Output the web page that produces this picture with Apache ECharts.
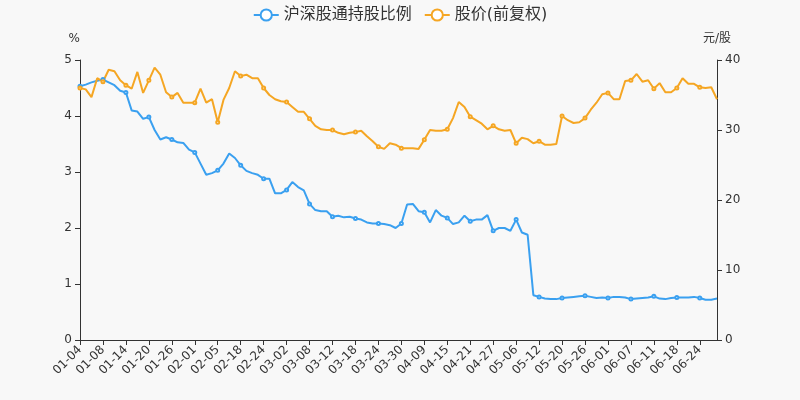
<!DOCTYPE html>
<html><head><meta charset="utf-8">
<script src="https://cdn.jsdelivr.net/npm/echarts@6/dist/echarts.min.js"></script>
<style>body{margin:0;background:#f8f8f8}#c{width:800px;height:400px}</style>
</head><body><div id="c"></div>
<script>
var dates = ['01-04','01-05','01-06','01-07','01-08','01-11','01-12','01-13','01-14','01-15','01-18','01-19','01-20','01-21','01-22','01-25','01-26','01-27','01-28','01-29',
 '02-01','02-02','02-03','02-04','02-05','02-08','02-09','02-10','02-18','02-19','02-22','02-23','02-24','02-25','02-26','03-01','03-02','03-03','03-04','03-05',
 '03-08','03-09','03-10','03-11','03-12','03-15','03-16','03-17','03-18','03-19','03-22','03-23','03-24','03-25','03-26','03-29','03-30','04-01','04-02','04-08',
 '04-09','04-12','04-13','04-14','04-15','04-16','04-19','04-20','04-21','04-22','04-23','04-26','04-27','04-28','04-29','04-30','05-06','05-07','05-10','05-11',
 '05-12','05-13','05-14','05-17','05-20','05-21','05-24','05-25','05-26','05-27','05-28','05-31','06-01','06-02','06-03','06-04','06-07','06-08','06-09','06-10',
 '06-11','06-15','06-16','06-17','06-18','06-21','06-22','06-23','06-24','06-25','06-28','06-29'];
var ratio = [4.53,4.56,4.6,4.63,4.65,4.6,4.55,4.45,4.42,4.1,4.08,3.95,3.98,3.75,3.58,3.62,3.58,3.53,3.52,3.4,
 3.35,3.15,2.95,2.98,3.03,3.15,3.33,3.25,3.12,3.02,2.98,2.95,2.88,2.88,2.62,2.62,2.68,2.82,2.73,2.67,
 2.43,2.32,2.3,2.3,2.2,2.22,2.19,2.2,2.17,2.15,2.1,2.08,2.08,2.07,2.05,2.0,2.08,2.42,2.43,2.3,
 2.28,2.1,2.32,2.22,2.18,2.07,2.1,2.22,2.12,2.15,2.15,2.23,1.95,2.0,2.0,1.95,2.15,1.92,1.88,0.8,
 0.77,0.74,0.73,0.73,0.75,0.76,0.77,0.78,0.79,0.77,0.75,0.76,0.75,0.77,0.77,0.76,0.73,0.74,0.75,0.76,
 0.78,0.74,0.73,0.75,0.76,0.76,0.76,0.77,0.75,0.72,0.72,0.74];
var price = [36,35.8,34.7,37.4,36.9,38.6,38.4,37.1,36.4,35.9,38.3,35.3,37.1,38.9,37.9,35.4,34.7,35.3,33.9,33.9,
 33.9,35.9,33.9,34.4,31.1,34.3,36,38.4,37.7,37.9,37.4,37.4,36,35,34.4,34.1,34,33.3,32.6,32.6,
 31.6,30.6,30.1,30,30,29.6,29.4,29.6,29.7,29.9,29.1,28.4,27.6,27.3,28.1,27.9,27.4,27.4,27.4,27.3,
 28.6,30,29.9,29.9,30.1,31.7,34,33.3,31.9,31.4,30.9,30.1,30.6,30.1,29.9,30,28.1,28.9,28.7,28.1,
 28.4,27.9,27.9,28,32,31.4,31,31.1,31.7,32.9,33.9,35.1,35.3,34.4,34.4,37,37.1,38,36.9,37.1,
 35.9,36.7,35.4,35.4,36,37.4,36.6,36.6,36.1,36,36.1,34.4];

var chart = echarts.init(document.getElementById('c'));
var axisCommon = {
    axisLine: {show: true, lineStyle: {color: '#333'}},
    axisTick: {show: true},
    splitLine: {show: false},
    axisLabel: {color: '#333'},
    nameTextStyle: {color: '#333'}
};
chart.setOption({
    backgroundColor: '#f8f8f8',
    textStyle: {fontFamily: 'DejaVu Sans, Noto Sans CJK SC'},
    legend: {
        top: 2,
        itemGap: 12,
        textStyle: {fontSize: 16, color: '#333'},
        data: ['沪深股通持股比例', '股价(前复权)']
    },
    grid: {left: 80, right: 83, top: 60, bottom: 60},
    xAxis: {
        type: 'category',
        data: dates,
        boundaryGap: false,
        axisLine: {lineStyle: {color: '#333'}},
        axisTick: {interval: 3},
        axisLabel: {interval: 3, rotate: 45, color: '#333'}
    },
    yAxis: [
        Object.assign({type: 'value', name: '%', min: 0, max: 5, interval: 1, nameGap: 15},
            axisCommon, {nameTextStyle: {color: '#333', align: 'right'}}),
        Object.assign({type: 'value', name: '元/股', min: 0, max: 40, interval: 10, nameGap: 15}, axisCommon)
    ],
    series: [
        {
            name: '沪深股通持股比例', type: 'line', data: ratio, yAxisIndex: 0,
            color: '#3aa0f0', symbol: 'emptyCircle', symbolSize: 3, showAllSymbol: false,
            lineStyle: {width: 2}
        },
        {
            name: '股价(前复权)', type: 'line', data: price, yAxisIndex: 1,
            color: '#f5a623', symbol: 'emptyCircle', symbolSize: 3, showAllSymbol: false,
            lineStyle: {width: 2}
        }
    ]
});
</script>
</body></html>
